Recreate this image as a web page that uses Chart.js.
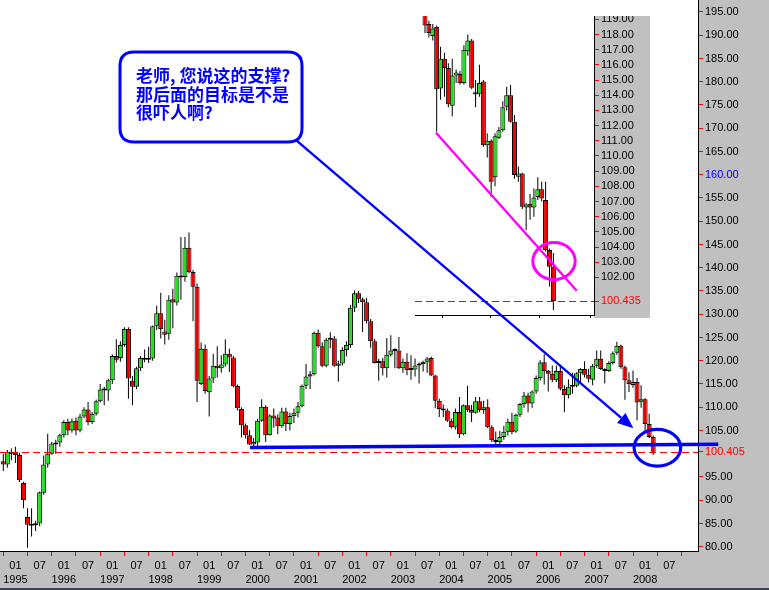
<!DOCTYPE html>
<html>
<head>
<meta charset="utf-8">
<script src="https://cdn.jsdelivr.net/npm/chart.js@4.4.1/dist/chart.umd.min.js"></script>
<style>
html,body{margin:0;padding:0;background:#c0c0c0;overflow:hidden;}
#wrap{position:relative;width:769px;height:590px;}
#wrap canvas{position:absolute;display:block;}
</style>
</head>
<body>
<div id="wrap">
<canvas id="mainChart" width="769" height="590" style="left:0;top:0;width:769px;height:590px;"></canvas>
<canvas id="insetChart" width="235" height="302" style="left:415px;top:16px;width:235px;height:302px;"></canvas>
<canvas id="overlay" width="769" height="590" style="left:0;top:0;width:769px;height:590px;pointer-events:none;"></canvas>
</div>
<script>
// ---------------- main chart data (monthly) ----------------
const months = [
 '1994-10','1994-11','1994-12',
 '1995-01','1995-02','1995-03','1995-04','1995-05','1995-06','1995-07','1995-08','1995-09','1995-10','1995-11','1995-12',
 '1996-01','1996-02','1996-03','1996-04','1996-05','1996-06','1996-07','1996-08','1996-09','1996-10','1996-11','1996-12',
 '1997-01','1997-02','1997-03','1997-04','1997-05','1997-06','1997-07','1997-08','1997-09','1997-10','1997-11','1997-12',
 '1998-01','1998-02','1998-03','1998-04','1998-05','1998-06','1998-07','1998-08','1998-09','1998-10','1998-11','1998-12',
 '1999-01','1999-02','1999-03','1999-04','1999-05','1999-06','1999-07','1999-08','1999-09','1999-10','1999-11','1999-12',
 '2000-01','2000-02','2000-03','2000-04','2000-05','2000-06','2000-07','2000-08','2000-09','2000-10','2000-11','2000-12',
 '2001-01','2001-02','2001-03','2001-04','2001-05','2001-06','2001-07','2001-08','2001-09','2001-10','2001-11','2001-12',
 '2002-01','2002-02','2002-03','2002-04','2002-05','2002-06','2002-07','2002-08','2002-09','2002-10','2002-11','2002-12',
 '2003-01','2003-02','2003-03','2003-04','2003-05','2003-06','2003-07','2003-08','2003-09','2003-10','2003-11','2003-12',
 '2004-01','2004-02','2004-03','2004-04','2004-05','2004-06','2004-07','2004-08','2004-09','2004-10','2004-11','2004-12',
 '2005-01','2005-02','2005-03','2005-04','2005-05','2005-06','2005-07','2005-08','2005-09','2005-10','2005-11','2005-12',
 '2006-01','2006-02','2006-03','2006-04','2006-05','2006-06','2006-07','2006-08','2006-09','2006-10','2006-11','2006-12',
 '2007-01','2007-02','2007-03','2007-04','2007-05','2007-06','2007-07','2007-08','2007-09','2007-10','2007-11','2007-12',
 '2008-01','2008-02','2008-03'
];
const openP = [
 98.4, 97.7, 100.4,
 100.3, 99.7, 93.7, 86.4, 84.7, 84.6, 85.0, 91.6, 97.7, 100.0, 102.0, 102.4,
 104.0, 106.8, 105.0, 107.1, 105.0, 108.0, 109.5, 106.8, 108.6, 111.3, 113.8, 113.6,
 115.8, 121.0, 120.6, 123.4, 126.8, 115.7, 114.4, 118.4, 120.6, 120.2, 120.5, 127.4,
 130.2, 126.3, 125.8, 133.2, 132.5, 138.3, 138.0, 144.3, 139.1, 135.9, 115.0, 122.6,
 113.2, 116.2, 118.9, 118.4, 119.2, 121.5, 120.7, 114.6, 109.6, 106.1, 104.0, 102.0,
 102.4, 107.1, 110.1, 104.0, 108.2, 107.8, 105.9, 109.1, 106.4, 108.1, 108.8, 110.2,
 114.6, 116.6, 117.1, 126.0, 123.1, 118.9, 124.5, 124.8, 118.9, 119.4, 122.3, 123.4,
 131.4, 134.5, 133.2, 132.6, 128.5, 124.2, 119.5, 119.9, 118.4, 121.3, 122.2, 122.2,
 118.4, 119.8, 118.0, 118.1, 119.0, 119.3, 119.8, 120.6, 116.8, 111.4, 109.6, 109.3,
 107.1, 105.7, 109.0, 104.2, 110.4, 109.4, 108.8, 111.3, 109.4, 110.0, 105.7, 102.9,
 102.5, 103.6, 104.7, 106.9, 104.8, 108.4, 110.7, 112.5, 110.8, 113.4, 116.3, 119.7,
 117.8, 117.2, 115.8, 117.8, 113.9, 112.6, 114.4, 114.6, 117.3, 118.2, 117.0, 115.9,
 118.9, 120.4, 118.2, 117.8, 119.5, 121.7, 123.2, 118.6, 115.8, 114.8, 115.4, 111.2,
 111.7, 106.4, 103.6
];
const highP = [
 100.0, 100.8, 101.1,
 101.5, 100.2, 94.0, 88.3, 88.3, 85.6, 91.9, 99.6, 104.3, 102.6, 103.0, 104.3,
 107.2, 107.5, 107.6, 107.8, 108.6, 110.0, 111.1, 109.0, 111.6, 115.0, 114.4, 116.1,
 121.4, 124.6, 124.2, 127.2, 127.2, 116.7, 118.7, 121.0, 122.4, 123.0, 127.6, 131.8,
 134.6, 128.8, 134.1, 135.5, 139.0, 146.6, 146.6, 147.6, 139.5, 136.6, 123.9, 123.5,
 116.7, 121.5, 123.1, 121.2, 124.6, 122.6, 121.0, 114.9, 110.0, 106.5, 105.1, 103.4,
 107.5, 111.7, 110.4, 108.5, 109.7, 108.5, 109.9, 109.9, 108.8, 109.7, 111.1, 114.9,
 119.3, 117.8, 126.3, 126.7, 124.0, 124.9, 126.1, 125.3, 120.0, 122.9, 124.2, 132.0,
 135.1, 135.0, 133.6, 133.5, 129.0, 124.7, 120.4, 120.6, 124.9, 125.5, 122.7, 125.1,
 120.5, 121.6, 121.2, 120.5, 119.6, 120.0, 120.8, 120.9, 117.0, 111.8, 110.6, 109.7,
 107.6, 109.7, 112.2, 110.6, 114.6, 110.5, 112.2, 112.2, 111.4, 111.7, 106.1, 104.8,
 104.9, 106.0, 107.5, 108.8, 108.6, 110.9, 113.3, 113.1, 113.6, 116.8, 120.1, 121.4,
 118.0, 119.0, 119.0, 118.7, 114.7, 116.0, 117.4, 117.5, 118.4, 119.9, 118.3, 119.3,
 122.2, 122.2, 118.4, 119.9, 122.0, 124.1, 123.5, 119.0, 117.5, 117.9, 116.3, 114.7,
 112.0, 108.6, 103.9
];
const lowP = [
 96.3, 97.0, 98.6,
 98.0, 93.9, 88.3, 79.8, 82.2, 83.4, 84.4, 91.2, 97.0, 99.8, 100.0, 101.5,
 103.5, 104.0, 104.5, 104.0, 104.6, 107.7, 106.1, 106.4, 108.2, 111.0, 110.4, 111.4,
 115.0, 119.6, 119.8, 123.0, 111.8, 110.4, 113.9, 117.8, 119.7, 119.5, 120.0, 126.6,
 124.8, 123.5, 124.5, 127.0, 131.9, 133.1, 137.0, 138.8, 128.5, 111.1, 114.8, 112.9,
 108.0, 115.2, 116.4, 117.4, 118.7, 117.6, 114.3, 109.3, 103.5, 103.3, 101.8, 101.4,
 101.3, 106.9, 102.5, 103.9, 105.6, 104.2, 105.6, 104.9, 105.0, 106.6, 107.8, 110.0,
 113.9, 113.9, 116.8, 122.8, 118.6, 118.6, 122.7, 118.7, 115.5, 119.0, 120.9, 122.8,
 130.5, 132.4, 126.2, 128.0, 122.8, 119.4, 115.7, 116.8, 116.4, 120.9, 118.4, 118.2,
 117.4, 116.9, 115.9, 116.6, 115.1, 117.7, 117.4, 116.7, 109.8, 107.9, 107.9, 106.8,
 105.4, 105.2, 103.4, 104.0, 109.0, 106.8, 108.6, 108.9, 108.6, 105.5, 102.5, 102.1,
 101.8, 103.0, 103.9, 104.2, 104.5, 107.9, 109.9, 108.9, 109.9, 112.9, 115.7, 114.9,
 113.4, 115.4, 115.4, 113.6, 108.9, 111.9, 112.9, 114.3, 115.4, 116.4, 115.3, 114.7,
 118.5, 118.0, 115.1, 117.6, 119.2, 121.3, 118.3, 111.6, 113.3, 114.2, 107.2, 109.9,
 104.9, 103.4, 99.7
];
const closeP = [
 97.7, 100.4, 99.9,
 99.7, 94.3, 90.0, 84.7, 84.5, 85.0, 91.7, 97.7, 100.0, 102.2, 102.4, 104.0,
 106.8, 105.0, 107.0, 105.0, 108.0, 109.5, 106.8, 108.6, 111.3, 113.8, 113.6, 115.8,
 121.0, 120.2, 123.4, 126.8, 116.2, 114.4, 118.4, 120.6, 120.2, 120.5, 127.4, 130.2,
 126.8, 125.6, 133.1, 132.5, 138.3, 137.9, 144.3, 139.1, 135.9, 115.7, 122.6, 113.5,
 116.2, 118.9, 118.4, 119.2, 121.5, 120.7, 114.5, 109.8, 106.1, 104.0, 102.0, 102.5,
 107.1, 110.1, 104.0, 108.2, 107.6, 105.9, 109.1, 106.4, 108.1, 108.8, 110.2, 114.6,
 116.6, 117.1, 126.0, 123.1, 118.9, 124.5, 124.8, 118.9, 119.4, 122.3, 123.4, 131.4,
 134.5, 133.2, 132.6, 128.5, 124.2, 119.5, 119.9, 118.4, 121.3, 122.2, 122.1, 118.4,
 119.8, 118.0, 118.2, 119.0, 119.3, 119.8, 120.5, 116.8, 111.4, 109.6, 109.3, 107.1,
 105.7, 109.0, 104.2, 110.4, 109.4, 108.8, 111.3, 109.4, 110.0, 105.7, 102.9, 102.5,
 103.6, 104.7, 106.9, 104.6, 108.4, 110.7, 112.5, 110.8, 113.4, 116.3, 119.6, 117.8,
 117.2, 115.9, 117.8, 114.0, 112.6, 114.4, 114.7, 117.3, 118.2, 117.0, 116.1, 118.9,
 120.4, 118.2, 117.8, 119.5, 121.6, 123.2, 118.6, 115.8, 115.0, 115.4, 111.0, 111.7,
 106.4, 103.6, 100.405
];
const lastClose = 100.405;
const highlightTick = 160;

const xTickMonths = ['1995-01','1995-07','1996-01','1996-07','1997-01','1997-07','1998-01','1998-07','1999-01','1999-07',
 '2000-01','2000-07','2001-01','2001-07','2002-01','2002-07','2003-01','2003-07','2004-01','2004-07',
 '2005-01','2005-07','2006-01','2006-07','2007-01','2007-07','2008-01','2008-07'];
const xTickLabels = [['01','1995'],'07',['01','1996'],'07',['01','1997'],'07',['01','1998'],'07',['01','1999'],'07',
 ['01','2000'],'07',['01','2001'],'07',['01','2002'],'07',['01','2003'],'07',['01','2004'],'07',
 ['01','2005'],'07',['01','2006'],'07',['01','2007'],'07',['01','2008'],'07'];
const yTickValues = [80,85,90,95,100.405,105,110,115,120,125,130,135,140,145,150,155,160,165,170,175,180,185,190,195];
const yTickLabels = ['80.00','85.00','90.00','95.00','100.405','105.00','110.00','115.00','120.00','125.00','130.00','135.00',
 '140.00','145.00','150.00','155.00','160.00','165.00','170.00','175.00','180.00','185.00','190.00','195.00'];

// annotations in data units (month index, price)
const supportLine = [[61.13, 101.33], [177.1, 102.02]];
const arrowLine = [[72.52, 167.46], [156.1, 105.46]];
const markEllipse = {center: [162.04, 101.29], radii: [5.77, 3.94]};
const bubbleLines = ['老师, 您说这的支撑?', '那后面的目标是不是', '很吓人啊?'];

// ---------------- inset data (weekly) ----------------
const insetWeeks = ['2007-07-23','2007-07-30','2007-08-06','2007-08-13','2007-08-20','2007-08-27','2007-09-03','2007-09-10',
 '2007-09-17','2007-09-24','2007-10-01','2007-10-08','2007-10-15','2007-10-22','2007-10-29','2007-11-05','2007-11-12',
 '2007-11-19','2007-11-26','2007-12-03','2007-12-10','2007-12-17','2007-12-24','2007-12-31','2008-01-07','2008-01-14',
 '2008-01-21','2008-01-28','2008-02-04','2008-02-11','2008-02-18','2008-02-25','2008-03-03','2008-03-10'];
const insetOpen = [119.6, 118.7, 117.9, 118.5, 114.45, 116.4, 115.8, 113.3, 115.3, 115.4, 114.8, 116.9, 117.6, 114.2, 114.1, 114.9,
 110.7, 111.0, 108.6, 111.2, 111.7, 113.24, 114.0, 112.25, 108.63, 108.85, 106.6, 106.85, 106.6, 107.3, 107.8, 107.1, 103.8, 102.7];
const insetHigh = [119.9, 118.9, 118.7, 118.6, 117.2, 116.8, 116.1, 116.4, 115.7, 115.6, 117.3, 118.0, 117.7, 115.0, 116.0, 115.0,
 111.5, 111.1, 111.5, 111.9, 113.6, 114.56, 114.67, 112.7, 109.3, 108.9, 106.9, 107.5, 107.85, 108.6, 108.3, 108.3, 103.9, 103.6];
const insetLow = [118.1, 117.8, 117.6, 111.6, 113.7, 113.9, 113.2, 112.6, 114.8, 114.7, 114.7, 116.6, 114.4, 113.2, 113.9, 110.6,
 109.9, 107.3, 108.0, 111.1, 111.6, 113.0, 112.2, 108.5, 108.3, 106.5, 105.1, 105.8, 106.0, 107.1, 107.0, 103.7, 101.4, 99.84];
const insetClose = [118.6, 118.1, 118.4, 114.4, 116.4, 115.8, 113.4, 115.3, 115.5, 114.8, 117.0, 117.6, 114.5, 114.05, 114.8, 110.7,
 111.0, 108.3, 111.3, 111.7, 113.2, 114.0, 112.25, 108.74, 108.85, 106.65, 106.8, 106.6, 107.26, 107.8, 107.2, 103.8, 102.7, 100.435];
const insetLastClose = 100.435;
const insetTickWeeks = [-2.1, 11, 22.9, 36];
const insetYTickValues = [100.435,102,103,104,105,106,107,108,109,110,111,112,113,114,115,116,117,118,119];
const insetYTickLabels = ['100.435','102.00','103.00','104.00','105.00','106.00','107.00','108.00','109.00','110.00',
 '111.00','112.00','113.00','114.00','115.00','116.00','117.00','118.00','119.00'];
const insetTrend = [[2.83, 111.53], [39.0, 101.12]];
const insetCircle = {center: [33.16, 103.07], radii: [5.45, 1.22]};

// ---------------- helpers ----------------
const GREEN = '#22dd22', RED = '#ee0000', GRAY = '#c0c0c0';
const AXIS_FONT = {family: 'Liberation Sans, Arial, sans-serif', size: 11, lineHeight: 1.25};
function monthOffset(s) {
  const [y, m] = s.split('-').map(Number);
  const [y0, m0] = months[0].split('-').map(Number);
  return (y - y0) * 12 + (m - m0);
}
function noPad(s) { s.paddingTop = 0; s.paddingBottom = 0; s.paddingLeft = 0; s.paddingRight = 0; }
function candleSets(o, h, l, c, bodyW) {
  const idx = o.map((_, i) => i);
  return [
    {label: 'wick', data: idx.map(i => ({x: i, y: [l[i], h[i]]})), backgroundColor: '#000', borderWidth: 0,
     barThickness: 1, grouped: false, order: 2, inflateAmount: 0},
    {label: 'body', data: idx.map(i => ({x: i, y: [o[i], c[i]]})),
     backgroundColor: idx.map(i => c[i] >= o[i] ? GREEN : RED), borderColor: '#000', borderWidth: 1,
     borderSkipped: false, barThickness: bodyW, minBarLength: 2, grouped: false, order: 1, inflateAmount: 0}
  ];
}

// ---------------- main chart ----------------
const mainBg = {
  id: 'mainBg',
  beforeDraw(chart) {
    const {ctx, chartArea: a} = chart;
    ctx.save();
    ctx.fillStyle = GRAY; ctx.fillRect(0, 0, chart.width, chart.height);
    ctx.fillStyle = '#fff'; ctx.fillRect(a.left, a.top, a.right - a.left, a.bottom - a.top);
    ctx.fillStyle = '#3b4252'; ctx.fillRect(0, chart.height - 2, chart.width, 2);
    ctx.restore();
  },
  afterDatasetsDraw(chart) {
    const {ctx, chartArea: a} = chart;
    const y = Math.round(chart.scales.y.getPixelForValue(lastClose)) + 0.5;
    ctx.save();
    ctx.strokeStyle = '#ff0000'; ctx.lineWidth = 1.2; ctx.setLineDash([7, 4]);
    ctx.beginPath(); ctx.moveTo(a.left, y); ctx.lineTo(a.right, y); ctx.stroke();
    ctx.restore();
  }
};

const mainChart = new Chart(document.getElementById('mainChart'), {
  type: 'bar',
  data: {datasets: candleSets(openP, highP, lowP, closeP, 5)},
  options: {
    responsive: false, animation: false, events: [],
    layout: {padding: 0, autoPadding: false},
    plugins: {legend: {display: false}, tooltip: {enabled: false}},
    scales: {
      x: {
        type: 'linear', position: 'bottom', min: -0.82, max: 172.1, offset: false,
        afterBuildTicks: s => { s.ticks = xTickMonths.map(m => ({value: monthOffset(m)})); },
        afterFit: s => { s.height = 39; noPad(s); },
        ticks: {autoSkip: false, maxRotation: 0, minRotation: 0, padding: 3, color: '#000', font: AXIS_FONT,
                callback: (v, i) => xTickLabels[i]},
        grid: {drawOnChartArea: false, drawTicks: true, tickLength: 5, tickColor: '#ff0000', tickWidth: 1},
        border: {display: true, color: '#000', width: 1}
      },
      y: {
        type: 'linear', position: 'right', min: 79.08, max: 197.58, beginAtZero: false,
        afterBuildTicks: s => { s.ticks = yTickValues.map(v => ({value: v})); },
        afterFit: s => { s.width = 71; noPad(s); },
        ticks: {autoSkip: false, padding: 2, font: AXIS_FONT, callback: (v, i) => yTickLabels[i],
                color: c => (c.tick && c.tick.value === lastClose) ? '#ff0000' : ((c.tick && c.tick.value === highlightTick) ? '#0000ff' : '#000')},
        grid: {drawOnChartArea: false, drawTicks: true, tickLength: 5, tickColor: '#ff0000', tickWidth: 1},
        border: {display: true, color: '#000', width: 1}
      }
    }
  },
  plugins: [mainBg]
});

// ---------------- inset chart ----------------
const insetPlug = {
  id: 'insetPlug',
  beforeDraw(chart) {
    const {ctx, chartArea: a} = chart;
    ctx.save();
    ctx.fillStyle = GRAY; ctx.fillRect(a.right, 0, chart.width - a.right, chart.height);
    ctx.fillStyle = '#fff'; ctx.fillRect(0, 0, a.right, chart.height);
    ctx.restore();
  },
  afterDatasetsDraw(chart) {
    const {ctx, chartArea: a, scales: {x, y}} = chart;
    ctx.save();
    const yl = Math.round(y.getPixelForValue(insetLastClose)) + 0.5;
    ctx.strokeStyle = '#ff0000'; ctx.lineWidth = 1.2; ctx.setLineDash([7, 4]);
    ctx.beginPath(); ctx.moveTo(a.left, yl); ctx.lineTo(a.right, yl); ctx.stroke();
    ctx.setLineDash([]);
    ctx.strokeStyle = '#ff00ff'; ctx.lineWidth = 2.4;
    ctx.beginPath();
    ctx.moveTo(x.getPixelForValue(insetTrend[0][0]), y.getPixelForValue(insetTrend[0][1]));
    ctx.lineTo(x.getPixelForValue(insetTrend[1][0]), y.getPixelForValue(insetTrend[1][1]));
    ctx.stroke();
    const cx = x.getPixelForValue(insetCircle.center[0]), cy = y.getPixelForValue(insetCircle.center[1]);
    const rx = Math.abs(x.getPixelForValue(insetCircle.center[0] + insetCircle.radii[0]) - cx);
    const ry = Math.abs(y.getPixelForValue(insetCircle.center[1] + insetCircle.radii[1]) - cy);
    ctx.lineWidth = 3;
    ctx.beginPath(); ctx.ellipse(cx, cy, rx, ry, 0, 0, Math.PI * 2); ctx.stroke();
    ctx.restore();
  }
};

const insetChart = new Chart(document.getElementById('insetChart'), {
  type: 'bar',
  data: {labels: insetWeeks, datasets: candleSets(insetOpen, insetHigh, insetLow, insetClose, 5)},
  options: {
    responsive: false, animation: false, events: [],
    layout: {padding: 0, autoPadding: false},
    plugins: {legend: {display: false}, tooltip: {enabled: false}},
    scales: {
      x: {
        type: 'linear', position: 'bottom', min: -2.57, max: 43.44, offset: false,
        afterBuildTicks: s => { s.ticks = insetTickWeeks.map(v => ({value: v})); },
        afterFit: s => { s.height = 3; noPad(s); },
        ticks: {display: false},
        grid: {drawOnChartArea: false, drawTicks: true, tickLength: 3, tickColor: '#000'},
        border: {display: true, color: '#000', width: 1}
      },
      y: {
        type: 'linear', position: 'right', min: 99.52, max: 119.22, beginAtZero: false,
        afterBuildTicks: s => { s.ticks = insetYTickValues.map(v => ({value: v})); },
        afterFit: s => { s.width = 56; noPad(s); },
        ticks: {autoSkip: false, padding: 2, font: AXIS_FONT, callback: (v, i) => insetYTickLabels[i],
                color: c => (c.tick && c.tick.value === insetLastClose) ? '#ff0000' : '#000'},
        grid: {drawOnChartArea: false, drawTicks: true, tickLength: 5, tickColor: '#ff0000'},
        border: {display: true, color: '#000', width: 1}
      }
    }
  },
  plugins: [insetPlug]
});

// ---------------- overlay annotations ----------------
(function drawOverlay() {
  const ctx = document.getElementById('overlay').getContext('2d');
  const xs = mainChart.scales.x, ys = mainChart.scales.y;
  const P = (p) => [xs.getPixelForValue(p[0]), ys.getPixelForValue(p[1])];
  ctx.save();
  ctx.strokeStyle = '#0000ff'; ctx.fillStyle = '#0000ff';
  // support line
  const s0 = P(supportLine[0]), s1 = P(supportLine[1]);
  ctx.lineWidth = 3.5;
  ctx.beginPath(); ctx.moveTo(s0[0], s0[1]); ctx.lineTo(s1[0], s1[1]); ctx.stroke();
  // ellipse
  const c = P(markEllipse.center);
  const rx = Math.abs(xs.getPixelForValue(markEllipse.center[0] + markEllipse.radii[0]) - c[0]);
  const ry = Math.abs(ys.getPixelForValue(markEllipse.center[1] + markEllipse.radii[1]) - c[1]);
  ctx.lineWidth = 3.2;
  ctx.beginPath(); ctx.ellipse(c[0], c[1], rx, ry, 0, 0, Math.PI * 2); ctx.stroke();
  // arrow
  const a0 = P(arrowLine[0]), a1 = P(arrowLine[1]);
  const ang = Math.atan2(a1[1] - a0[1], a1[0] - a0[0]);
  const hl = 16, hw = 6.5;
  const bx = a1[0] - hl * Math.cos(ang), by = a1[1] - hl * Math.sin(ang);
  ctx.lineWidth = 2.4;
  ctx.beginPath(); ctx.moveTo(a0[0], a0[1]); ctx.lineTo(bx, by); ctx.stroke();
  ctx.beginPath();
  ctx.moveTo(a1[0], a1[1]);
  ctx.lineTo(bx + hw * Math.sin(ang), by - hw * Math.cos(ang));
  ctx.lineTo(bx - hw * Math.sin(ang), by + hw * Math.cos(ang));
  ctx.closePath(); ctx.fill();
  // speech bubble
  const bxL = 120, byT = 52, bxR = 302, byB = 142, r = 14;
  ctx.lineWidth = 3;
  ctx.fillStyle = '#ffffff';
  ctx.beginPath();
  ctx.moveTo(bxL + r, byT); ctx.lineTo(bxR - r, byT); ctx.quadraticCurveTo(bxR, byT, bxR, byT + r);
  ctx.lineTo(bxR, byB - r); ctx.quadraticCurveTo(bxR, byB, bxR - r, byB);
  ctx.lineTo(bxL + r, byB); ctx.quadraticCurveTo(bxL, byB, bxL, byB - r);
  ctx.lineTo(bxL, byT + r); ctx.quadraticCurveTo(bxL, byT, bxL + r, byT);
  ctx.closePath(); ctx.fill(); ctx.stroke();
  ctx.fillStyle = '#0000ff';
  ctx.font = 'bold 17px "Noto Sans CJK SC", sans-serif';
  ctx.textBaseline = 'middle'; ctx.textAlign = 'left';
  bubbleLines.forEach((t, i) => ctx.fillText(t, 136, 76 + i * 18.5));
  ctx.restore();
})();
</script>
</body>
</html>
